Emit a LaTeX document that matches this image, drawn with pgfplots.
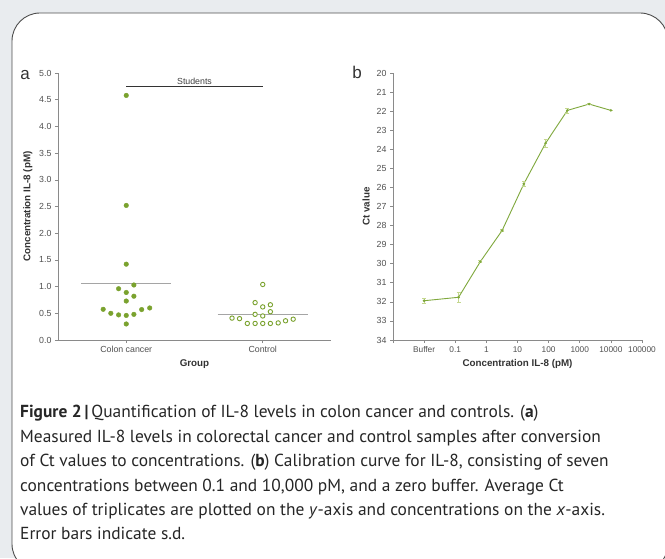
\documentclass[border=0pt]{standalone}
\usepackage{fontspec}
\setmainfont{Liberation Sans}
\newfontfamily\capfont{PT Sans}
\usepackage{pgfplots}
\pgfplotsset{compat=1.18}
\definecolor{bggray}{HTML}{E9ECEF}
\definecolor{framegray}{HTML}{4D4D4D}
\definecolor{dotgreen}{HTML}{7AA22E}
\definecolor{linegreen}{HTML}{7FA83C}
\definecolor{errgreen}{HTML}{C4D78E}
\definecolor{axisgray}{HTML}{8A8A8A}
\definecolor{ticktext}{HTML}{505050}
\definecolor{meangray}{HTML}{A5A5A5}

\pgfplotsset{panel/.style={
  scale only axis, anchor=south west, clip=false,
  axis lines*=left,
  axis line style={axisgray, line width=0.8pt},
  tick style={axisgray, line width=0.6pt},
  tick align=outside, major tick length=3pt,
  tick label style={font=\fontsize{8.8}{9}\selectfont, text=ticktext},
  label style={font=\fontsize{9.8}{10}\selectfont\bfseries, text=black!80},
  /pgf/number format/assume math mode=true}}

\begin{document}
\begin{tikzpicture}[x=1pt,y=1pt]
\useasboundingbox (0,0) rectangle (665,558);
\fill[bggray] (0,0) rectangle (665,558);
\begin{scope}
  \clip (0,0) rectangle (665,558);
  \draw[framegray, line width=0.9pt, fill=white, rounded corners=28pt] (12,545) rectangle (668,-14);
\end{scope}

% panel letters
\node[anchor=base, inner sep=0, font=\fontsize{17}{17}\selectfont, text=black!80] at (25,478) {a};
\node[anchor=base, inner sep=0, font=\fontsize{17}{17}\selectfont, text=black!80] at (357,479) {b};

% (a) IL-8 concentrations
\begin{axis}[panel, at={(58pt,218pt)}, width=273pt, height=267pt,
  xmin=0.5, xmax=2.5, ymin=0, ymax=5,
  xtick={1,2}, xticklabels={Colon cancer, Control},
  ytick={0,0.5,1,1.5,2,2.5,3,3.5,4,4.5,5},
  yticklabel style={/pgf/number format/.cd, fixed, fixed zerofill, precision=1},
  xlabel={Group}, ylabel={Concentration IL-8 (pM)}]
% colon cancer
\addplot[only marks, mark=*, mark size=2.3pt, dotgreen, mark options={draw=dotgreen, fill=dotgreen}] coordinates {
  (1,4.58)(1,2.52)(1,1.42)(1.056,1.03)(0.944,0.96)(1,0.89)(1.056,0.82)(1,0.73)
  (1.172,0.60)(0.831,0.575)(1.113,0.57)(0.887,0.50)(1.056,0.48)(0.944,0.47)(1,0.46)(1,0.30)};
% control
\addplot[only marks, mark=*, mark size=2.2pt, mark options={draw=dotgreen, fill=white, line width=0.9pt}] coordinates {
  (2,1.04)(1.944,0.70)(2.056,0.66)(2,0.62)(2.056,0.53)(1.944,0.48)(2,0.45)(1.775,0.41)
  (1.83,0.40)(2.223,0.39)(2.167,0.36)(1.887,0.31)(1.944,0.31)(2,0.31)(2.056,0.31)(2.113,0.32)};
% means
\addplot[meangray, line width=1.2pt] coordinates {(0.67,1.057)(1.33,1.057)};
\addplot[meangray, line width=1.2pt] coordinates {(1.67,0.474)(2.33,0.474)};
% significance bar
\addplot[black!80, line width=0.8pt] coordinates {(1,4.75)(2,4.75)};
\node[anchor=south, font=\fontsize{8.8}{9}\selectfont, text=black!75, inner sep=1.5pt] at (axis cs:1.5,4.75) {Students};
\end{axis}

% (b) calibration curve
\begin{axis}[panel, at={(393pt,218pt)}, width=249pt, height=267pt,
  xmode=log, log basis x=10, xmin=0.001, xmax=100000,
  ymin=20, ymax=34, y dir=reverse,
  xtick={0.001,0.01,0.1,1,10,100,1000,10000,100000},
  xticklabels={,Buffer,0.1,1,10,100,1000,10000,100000},
  minor xtick={},
  ytick={20,21,...,34},
  xticklabel style={font=\fontsize{8.3}{9}\selectfont},
  xlabel={Concentration IL-8 (pM)}, ylabel={Ct value}]
\addplot[linegreen, line width=0.9pt, mark=*, mark size=0.8pt,
  error bars/.cd, y dir=both, y explicit,
  error bar style={errgreen, line width=0.7pt},
  error mark options={errgreen, rotate=90, mark size=2pt, line width=0.7pt}]
  coordinates {
  (0.01,31.94) +- (0,0.15)
  (0.128,31.76) +- (0,0.27)
  (0.64,29.89) +- (0,0.05)
  (3.2,28.26) +- (0,0.05)
  (16,25.81) +- (0,0.12)
  (80,23.68) +- (0,0.2)
  (400,21.96) +- (0,0.13)
  (2000,21.63) +- (0,0.03)
  (10000,21.96) +- (0,0.02)};
\end{axis}

% caption
\begin{scope}[every node/.style={anchor=base west, inner sep=0, font=\capfont\fontsize{17.4}{20}\selectfont, text=black!85}]
\node at (20,140) {\textbf{Figure 2\,|}\,Quantification of IL-8 levels in colon cancer and controls. (\textbf{a})};
\node at (20,116) {Measured IL-8 levels in colorectal cancer and control samples after conversion};
\node at (20,92) {of Ct values to concentrations. (\textbf{b}) Calibration curve for IL-8, consisting of seven};
\node at (20,67) {concentrations between 0.1 and 10,000 pM, and a zero buffer. Average Ct};
\node at (20,43) {values of triplicates are plotted on the \textit{y}-axis and concentrations on the \textit{x}-axis.};
\node at (20,19) {Error bars indicate s.d.};
\end{scope}
\end{tikzpicture}
\end{document}
